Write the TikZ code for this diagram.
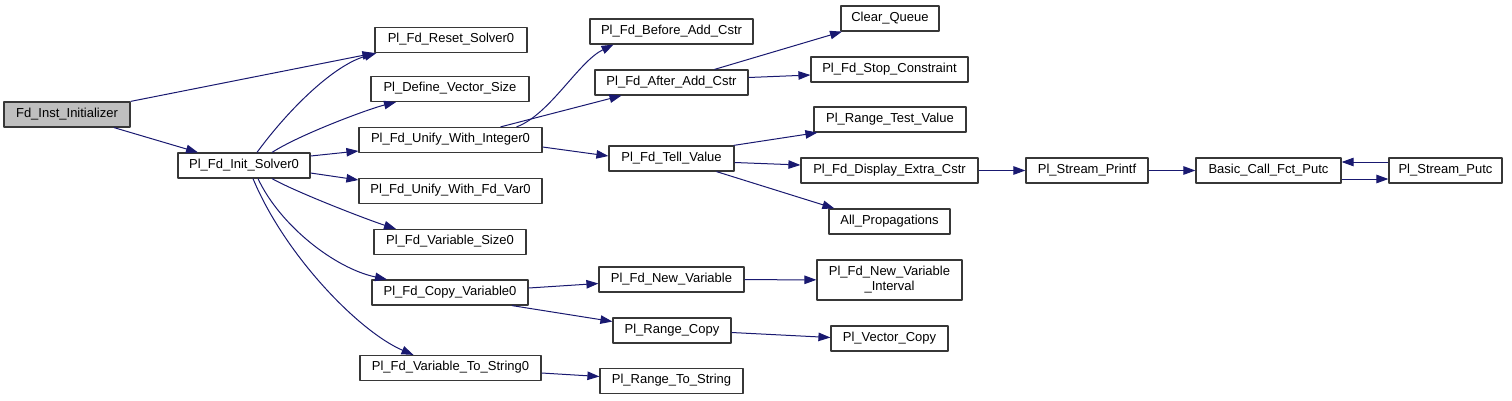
\documentclass[tikz,border=0pt]{standalone}
\usepackage{fontspec}
\setmainfont{Liberation Sans}
\usetikzlibrary{arrows.meta}
\definecolor{fg}{RGB}{55,55,55}
\definecolor{navy}{RGB}{25,25,112}
\definecolor{rootgray}{RGB}{191,191,191}
\tikzset{
  every picture/.style={line width=1pt, line join=round,
    >={Triangle[length=12pt,width=8.5pt]}},
  every node/.style={font=\fontsize{13}{15}\selectfont},
  % Kästen
  fnbox/.style={draw=fg, fill=white, line width=1.2pt, inner sep=0pt, minimum height=25pt},
  fn/.style={fnbox, text height=9.5pt, text depth=4.5pt},
  root/.style={fn, fill=rootgray},
  % Aufrufe
  call/.style={navy, ->},
}
\begin{document}
\begin{tikzpicture}[x=1pt, y=-1pt]
  \useasboundingbox (0,0) rectangle (1512,400);
  % Spalte 0/1
  \node[root, minimum width=126pt] (inst) at (67,114.5) {Fd\_Inst\_Initializer};
  \node[fn, minimum width=132pt] (init) at (244,165.5) {Pl\_Fd\_Init\_Solver0};
  % Spalte 2
  \node[fn, minimum width=152pt] (reset) at (451,40) {Pl\_Fd\_Reset\_Solver0};
  \node[fn, minimum width=158pt] (defvec) at (450,89) {Pl\_Define\_Vector\_Size};
  \node[fn, minimum width=183pt] (uint) at (450.5,140) {Pl\_Fd\_Unify\_With\_Integer0};
  \node[fn, minimum width=183pt] (ufd) at (450.5,191) {Pl\_Fd\_Unify\_With\_Fd\_Var0};
  \node[fn, minimum width=152pt] (vsize) at (450,242) {Pl\_Fd\_Variable\_Size0};
  \node[fn, minimum width=156pt] (copy) at (450,292.5) {Pl\_Fd\_Copy\_Variable0};
  \node[fn, minimum width=181pt] (tostr) at (450.5,368) {Pl\_Fd\_Variable\_To\_String0};
  % Spalte 3
  \node[fn, minimum width=163pt] (before) at (671.5,31.5) {Pl\_Fd\_Before\_Add\_Cstr};
  \node[fn, minimum width=153pt] (after) at (671.5,82.5) {Pl\_Fd\_After\_Add\_Cstr};
  \node[fn, minimum width=125pt] (tell) at (671.5,158.5) {Pl\_Fd\_Tell\_Value};
  \node[fn, minimum width=145pt] (newvar) at (671.5,279.5) {Pl\_Fd\_New\_Variable};
  \node[fn, minimum width=118pt] (rcopy) at (672,330.5) {Pl\_Range\_Copy};
  \node[fn, minimum width=143pt] (rtostr) at (671.5,381) {Pl\_Range\_To\_String};
  % Spalte 4
  \node[fn, minimum width=98pt] (clear) at (890,18.5) {Clear\_Queue};
  \node[fn, minimum width=157pt] (stop) at (889.5,69.5) {Pl\_Fd\_Stop\_Constraint};
  \node[fn, minimum width=152pt] (rtest) at (890,119.5) {Pl\_Range\_Test\_Value};
  \node[fn, minimum width=177pt] (disp) at (889.5,170.5) {Pl\_Fd\_Display\_Extra\_Cstr};
  \node[fn, minimum width=121pt] (allprop) at (889.5,221.5) {All\_Propagations};
  \node[fnbox, minimum width=145pt, minimum height=40pt, align=center] (interval) at (889.5,280) {Pl\_Fd\_New\_Variable\\\_Interval};
  \node[fn, minimum width=117pt] (vcopy) at (889.5,338.5) {Pl\_Vector\_Copy};
  % Ausgabe
  \node[fn, minimum width=122pt] (printf) at (1087,170.5) {Pl\_Stream\_Printf};
  \node[fn, minimum width=145pt] (basic) at (1268.5,170.5) {Basic\_Call\_Fct\_Putc};
  \node[fn, minimum width=113pt] (putc) at (1445.5,170.5) {Pl\_Stream\_Putc};
  % Aufrufe
  \draw[call] (inst.north east) -- (reset.south west);
  \draw[call] ([xshift=47pt]inst.south) -- ([xshift=-46pt]init.north);
  \draw[call] ([xshift=13pt]init.north) .. controls +(33,-45) and +(-42,12) .. ([xshift=2pt]reset.south west);
  \draw[call] ([xshift=28pt]init.north) .. controls +(28,-18) and +(-28,7) .. ([xshift=-54pt]defvec.south);
  \draw[call] ([yshift=9.5pt]init.east) -- ([yshift=-11pt]uint.west);
  \draw[call] ([yshift=-7.5pt]init.east) -- ([yshift=11pt]ufd.west);
  \draw[call] ([xshift=28pt]init.south) .. controls +(25,14) and +(-28,-9) .. ([xshift=-54pt]vsize.north);
  \draw[call] ([xshift=14pt]init.south) .. controls +(22,47) and +(-52,-11) .. ([xshift=-63pt]copy.north);
  \draw[call] ([xshift=9pt]init.south) .. controls +(32,77) and +(-54,-23) .. ([xshift=-37pt]tostr.north);
  \draw[call] ([xshift=66pt]uint.north) .. controls +(33,-12) and +(-35,17) .. ([xshift=-58pt]before.south);
  \draw[call] ([xshift=50pt]uint.north) -- ([xshift=-50pt]after.south);
  \draw[call] ([yshift=-7pt]uint.east) -- ([yshift=2.5pt]tell.west);
  \draw[call] ([xshift=43pt]after.north) -- ([xshift=-48pt]clear.south);
  \draw[call] ([yshift=5pt]after.east) -- ([yshift=-5.5pt]stop.west);
  \draw[call] ([xshift=-1pt]tell.north east) -- ([xshift=4pt]rtest.south west);
  \draw[call] ([yshift=-4pt]tell.east) -- ([yshift=5.5pt]disp.west);
  \draw[call] ([xshift=45pt]tell.south) -- ([xshift=6pt]allprop.north west);
  \draw[call] (disp) -- (printf);
  \draw[call] (printf) -- (basic);
  \draw[call] ([yshift=-8.5pt]basic.east) -- ([yshift=-8.5pt]putc.west);
  \draw[call] ([yshift=8.5pt]putc.west) -- ([yshift=8.5pt]basic.east);
  \draw[call] ([yshift=4.5pt]copy.east) -- ([yshift=-4pt]newvar.west);
  \draw[call] ([xshift=62pt]copy.south) -- ([yshift=9pt]rcopy.west);
  \draw[call] (newvar) -- (interval);
  \draw[call] ([yshift=-2pt]rcopy.east) -- ([yshift=1pt]vcopy.west);
  \draw[call] ([yshift=-5pt]tostr.east) -- ([yshift=4.5pt]rtostr.west);
\end{tikzpicture}
\end{document}
